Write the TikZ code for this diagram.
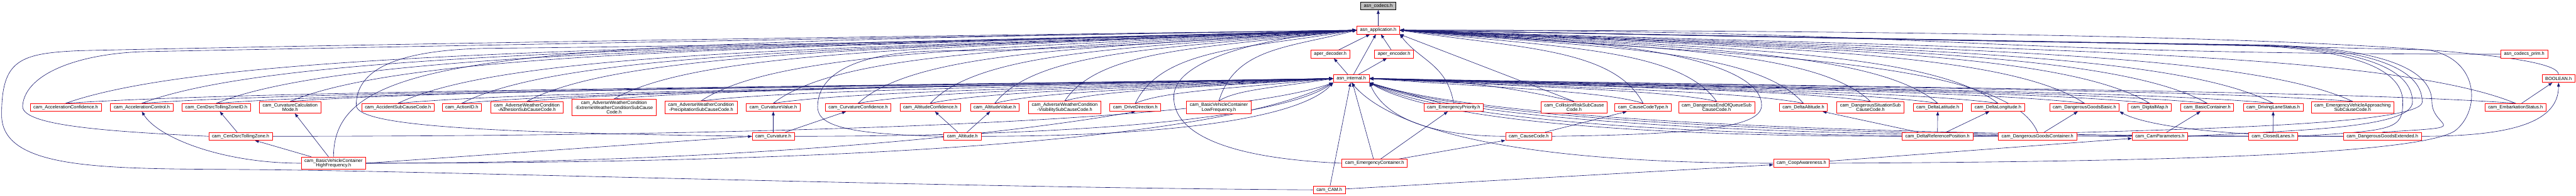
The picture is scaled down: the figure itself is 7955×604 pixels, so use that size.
\documentclass[tikz,border=0pt]{standalone}
\usepackage{fontspec}
\setmainfont{Liberation Sans}
\usetikzlibrary{arrows.meta,calc,backgrounds}
\definecolor{edgeNavy}{HTML}{191970}
\definecolor{boxRed}{HTML}{FF0000}
\definecolor{rootGray}{HTML}{BFBFBF}
\tikzset{
  file/.style={draw=boxRed,fill=white,line width=1.5pt,align=center,
    inner xsep=10pt,inner ysep=5pt,minimum height=24pt,
    font=\fontsize{14.4}{15}\selectfont},
  rootfile/.style={file,draw=black,fill=rootGray},
  dep/.style={draw=edgeNavy,line width=1.2pt,
    -{Triangle[length=12pt,width=9pt]}}
}
% Include edge; the controls are fractions of the run between both ends.
\newcommand{\incl}[6]{%
  \draw[dep] let \p1=(#1), \p2=(#2), \n1={\x2-\x1}, \n2={\y2-\y1} in
    (\p1) .. controls +({(#3)*(\n1)},{(#4)*(\n2)})
                 and +({-(#5)*(\n1)},{-(#6)*(\n2)}) .. (\p2);
}
% Edge that swings round on the right and comes back to asn_application.h.
\newcommand{\rightloop}[2]{%
  \draw[dep] (#1) .. controls +(300,18) and (#2,205) .. (#2,290)
    .. controls (#2,400) and ({#2-180},455) .. ({#2-500},465)
    .. controls ({#2-1500},480) and (5000,500) .. (app.east);
}

\begin{document}
\begin{tikzpicture}[x=1pt,y=1pt]
\useasboundingbox (0,0) rectangle (7955,604);

% Root and the asn1c runtime headers.
\node[rootfile] (codecs) at (4256,586) {asn\_codecs.h};
\node[file] (app) at (4256,511) {asn\_application.h};
\node[file] (aperdec) at (4108,437) {aper\_decoder.h};
\node[file] (aperenc) at (4305,437) {aper\_encoder.h};
\node[file] (codecsprim) at (7795,437) {asn\_codecs\_prim.h};
\node[file] (internal) at (4173,362) {asn\_internal.h};
\node[file] (boolean) at (7901,362) {BOOLEAN.h};

% Row of the plain CAM types.
\foreach \id/\x/\txt in {
  accconf/203/{cam\_AccelerationConfidence.h},
  accctrl/438/{cam\_AccelerationControl.h},
  tollid/668/{cam\_CenDsrcTollingZoneID.h},
  curvmode/896/{cam\_CurvatureCalculation\\Mode.h},
  accsub/1229/{cam\_AccidentSubCauseCode.h},
  actionid/1426/{cam\_ActionID.h},
  adhesion/1627/{cam\_AdverseWeatherCondition\\-AdhesionSubCauseCode.h},
  extreme/1896/{cam\_AdverseWeatherCondition\\-ExtremeWeatherConditionSubCause\\Code.h},
  precip/2165/{cam\_AdverseWeatherCondition\\-PrecipitationSubCauseCode.h},
  curvval/2388/{cam\_CurvatureValue.h},
  curvconf/2650/{cam\_CurvatureConfidence.h},
  altconf/2873/{cam\_AltitudeConfidence.h},
  altval/3072/{cam\_AltitudeValue.h},
  visib/3288/{cam\_AdverseWeatherCondition\\-VisibilitySubCauseCode.h},
  drivedir/3506/{cam\_DriveDirection.h},
  bvclow/3764/{cam\_BasicVehicleContainer\\LowFrequency.h},
  emprio/4489/{cam\_EmergencyPriority.h},
  collrisk/4861/{cam\_CollisionRiskSubCause\\Code.h},
  cctype/5074/{cam\_CauseCodeType.h},
  endqueue/5301/{cam\_DangerousEndOfQueueSub\\CauseCode.h},
  deltaalt/5569/{cam\_DeltaAltitude.h},
  dangsit/5776/{cam\_DangerousSituationSub\\CauseCode.h},
  deltalat/5984/{cam\_DeltaLatitude.h},
  deltalon/6170/{cam\_DeltaLongitude.h},
  dgbasic/6437/{cam\_DangerousGoodsBasic.h},
  digmap/6638/{cam\_DigitalMap.h},
  basiccont/6816/{cam\_BasicContainer.h},
  drivinglane/7020/{cam\_DrivingLaneStatus.h},
  evapproach/7265/{cam\_EmergencyVehicleApproaching\\SubCauseCode.h},
  embark/7768/{cam\_EmbarkationStatus.h}} {
  \node[file] (\id) at (\x,273) {\txt};
}

% Composite types.
\node[file] (tollzone) at (743,184) {cam\_CenDsrcTollingZone.h};
\node[file] (curvature) at (2388,184) {cam\_Curvature.h};
\node[file] (altitude) at (2972,184) {cam\_Altitude.h};
\node[file] (causecode) at (4721,184) {cam\_CauseCode.h};
\node[file] (deltaref) at (5983,184) {cam\_DeltaReferencePosition.h};
\node[file] (dgcont) at (6292,184) {cam\_DangerousGoodsContainer.h};
\node[file] (camparams) at (6670,184) {cam\_CamParameters.h};
\node[file] (closedlanes) at (7019,184) {cam\_ClosedLanes.h};
\node[file] (dgext) at (7357,184) {cam\_DangerousGoodsExtended.h};
\node[file] (bvchigh) at (1030,101) {cam\_BasicVehicleContainer\\HighFrequency.h};
\node[file] (emcont) at (4245,101) {cam\_EmergencyContainer.h};
\node[file] (coopaw) at (5563,101) {cam\_CoopAwareness.h};
\node[file] (cam) at (4105,19) {cam\_CAM.h};

\begin{pgfonlayer}{background}
% Runtime headers.
\draw[dep] (app) -- (codecs);
\draw[dep] (aperdec) -- (app);
\draw[dep] (aperenc) -- (app);
\draw[dep] (internal) -- (app);
\draw[dep] (internal) -- (aperdec);
\draw[dep] (internal) -- (aperenc);
\incl{codecsprim.west}{app.east}{0.5}{0}{0.5}{0}
\incl{boolean.north}{app.east}{0}{0.8}{0.5}{0}

% Plain types: up to both runtime headers.
\foreach \f in {accconf,accctrl,tollid,curvmode,accsub,actionid,adhesion,
  extreme,precip,curvval,curvconf,altconf,altval,visib,drivedir,bvclow} {
  \incl{\f.north}{app.west}{0.12}{0.75}{0.5}{0.25}
  \incl{\f.north}{internal.west}{0.15}{0.5}{0.5}{0.4}
}
\foreach \f in {cctype,endqueue,deltaalt,dangsit,deltalat,deltalon,dgbasic,
  digmap,basiccont,drivinglane,evapproach,embark} {
  \incl{\f.north}{app.east}{0.12}{0.75}{0.5}{0.25}
  \incl{\f.north}{internal.east}{0.15}{0.5}{0.5}{0.4}
}
\draw[dep] (emprio.north) .. controls +(-20,120) and +(60,-80) .. (app.south east);
\draw[dep] ([xshift=-40pt]emprio.north) -- (internal.south east);
\draw[dep] (collrisk.north) -- (app.south east);
\incl{collrisk.north}{internal.east}{0.3}{0.6}{0.4}{0}

% Composite types into their parts.
\draw[dep] (tollzone) -- (tollid);
\draw[dep] (curvature) -- (curvval);
\draw[dep] (curvature) -- (curvconf);
\draw[dep] (altitude) -- (altconf);
\draw[dep] (altitude) -- (altval);
\draw[dep] (causecode) -- (cctype);
\draw[dep] (deltaref) -- (deltaalt);
\draw[dep] (deltaref) -- (deltalat);
\draw[dep] (deltaref) -- (deltalon);
\draw[dep] (dgcont) -- (dgbasic);
\draw[dep] (camparams) -- (basiccont);
\draw[dep] (closedlanes) -- (drivinglane);
\draw[dep] (embark) -- (boolean);
\incl{dgext.west}{dgbasic.south east}{0.6}{0}{0.1}{0.5}
\incl{dgext.east}{boolean.south}{0.7}{0}{0}{0.7}

% Composite types up to the runtime headers.
\draw[dep] (tollzone.west) .. controls (300,200) and (60,220) .. (70,280)
  .. controls (80,380) and (250,440) .. (450,445)
  .. controls (1500,465) and (2800,490) .. (app.west);
\draw[dep] (curvature.west) .. controls (1500,195) and (1100,215) .. (1100,280)
  .. controls (1100,400) and (1250,450) .. (1500,455)
  .. controls (2500,465) and (3500,490) .. (app.west);
\draw[dep] (altitude.west) .. controls (2600,190) and (2520,220) .. (2525,280)
  .. controls (2530,400) and (2700,445) .. (2900,447)
  .. controls (3400,450) and (3800,490) .. (app.west);
\foreach \f in {tollzone,curvature,altitude} {
  \incl{\f.east}{internal.south west}{0.5}{0}{0.1}{0.7}
}
\foreach \f in {causecode,deltaref,dgcont,camparams,closedlanes,dgext} {
  \incl{\f.west}{internal.south east}{0.5}{0}{0.12}{0.7}
}
\draw[dep] (causecode.east) .. controls (5300,190) and (5440,220) .. (5440,280)
  .. controls (5440,380) and (5200,445) .. (4900,470)
  .. controls (4700,485) and (4500,505) .. (app.east);
\incl{dgcont.north}{app.east}{0.05}{0.75}{0.5}{0.25}
\rightloop{deltaref.east}{7480}
\rightloop{camparams.east}{7450}
\rightloop{closedlanes.east}{7420}
\rightloop{dgext.north}{7510}

% Containers.
\draw[dep] (bvchigh) -- (tollzone);
\draw[dep] (bvchigh) -- (curvmode);
\draw[dep] (bvchigh.east) -- (curvature.west);
\incl{bvchigh.west}{accctrl.south}{0.5}{0}{0.1}{0.5}
\incl{bvchigh.east}{drivedir.south}{0.5}{0}{0.15}{0.4}
\draw[dep] (bvchigh.north) .. controls +(0,330) and +(-2600,-40) .. (app.west);
\incl{bvchigh.east}{internal.south west}{0.6}{0}{0.1}{0.6}
\draw[dep] (emcont) -- (emprio);
\draw[dep] (emcont) -- (causecode);
\draw[dep] (emcont) -- (internal);
\draw[dep] (emcont.west) .. controls (3700,120) and (3620,230) .. (3625,310)
  .. controls (3630,420) and (3900,490) .. (app.west);
\draw[dep] (coopaw) -- (camparams);
\incl{coopaw.west}{internal.south}{0.6}{0}{0.1}{0.6}
\draw[dep] (coopaw.east) .. controls (6500,105) and (7450,120) .. (7580,200)
  .. controls (7660,260) and (7660,420) .. (7500,450)
  .. controls (6500,475) and (5000,500) .. (app.east);

% The message itself.
\draw[dep] (cam) -- (coopaw);
\draw[dep] (cam) -- (internal);
\draw[dep] (cam.west) .. controls (3000,25) and (1500,72) .. (900,80)
  .. controls (400,88) and (5,60) .. (5,250)
  .. controls (5,420) and (60,440) .. (250,448)
  .. controls (1500,475) and (3000,495) .. (app.west);
\end{pgfonlayer}

\end{tikzpicture}
\end{document}
